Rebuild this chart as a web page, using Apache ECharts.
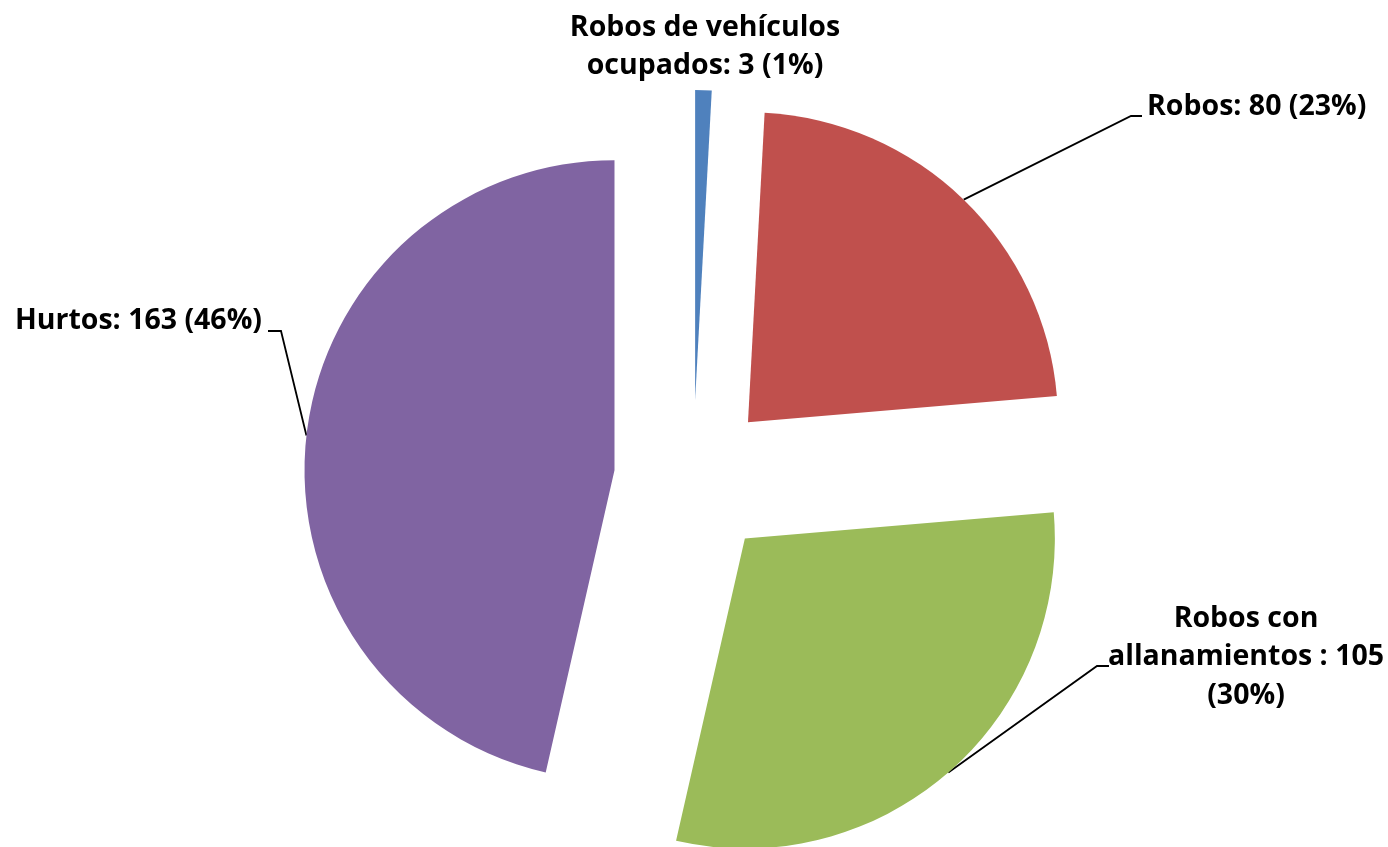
<!DOCTYPE html>
<html>
<head>
<meta charset="utf-8">
<script src="https://cdn.jsdelivr.net/npm/echarts@6/dist/echarts.min.js"></script>
<style>
html,body{margin:0;padding:0;background:#fff;}
#chart{width:1388px;height:847px;}
</style>
</head>
<body>
<div id="chart"></div>
<script>
// ---- data ----
const categories = ['Robos de vehículos\nocupados', 'Robos', 'Robos con\nallanamientos ', 'Hurtos'];
const values = [3, 80, 105, 163];
const labelBreaks = [' ', ' ', '\n', ' '];
const colors = ['#4F81BD', '#C0504D', '#9BBB59', '#8064A2'];

// ---- layout ----
const CX = 693, CY = 479, R = 310, EXPLODE = 79;
const labelPlace = [
  { x: 705, y: 47, align: 'center', line: null },
  { x: 1147, y: 107, align: 'left', line: [[1131, 116], [1142, 116]] },
  { x: 1246, y: 657, align: 'center', line: [[1097, 666], [1109, 666]] },
  { x: 262, y: 321, align: 'right', line: [[281, 331], [268, 331]] }
];

const total = values.reduce((a, b) => a + b, 0);
let cum = 0;
const mids = values.map(v => { const m = (cum + v / 2) / total * 2 * Math.PI; cum += v; return m; });

const font = { fontFamily: 'Open Sans', fontWeight: 'bold', fontSize: 28.5, color: '#000', lineHeight: 38.5 };

const series = values.map((_, i) => ({
  type: 'pie',
  silent: true,
  animation: false,
  startAngle: 90,
  clockwise: true,
  radius: R,
  center: [CX + EXPLODE * Math.sin(mids[i]), CY - EXPLODE * Math.cos(mids[i])],
  avoidLabelOverlap: false,
  data: categories.map((name, j) => ({
    name: name,
    value: values[j],
    itemStyle: { color: j === i ? colors[j] : 'rgba(0,0,0,0)', borderWidth: 0 },
    label: { show: j === i },
    labelLine: { show: j === i && labelPlace[j].line !== null }
  })),
  label: Object.assign({
    position: 'outside',
    formatter: p => p.name + ': ' + p.value + labelBreaks[p.dataIndex] + '(' + Math.round(p.percent) + '%)'
  }, font),
  labelLine: { lineStyle: { color: '#000', width: 1.8 }, length: 20, length2: 10 },
  labelLayout: function (params) {
    const lp = labelPlace[params.dataIndex];
    const out = { x: lp.x, y: lp.y, align: lp.align, verticalAlign: 'middle' };
    if (lp.line && params.labelLinePoints) {
      out.labelLinePoints = [params.labelLinePoints[0], lp.line[0], lp.line[1]];
    }
    return out;
  }
}));

const chart = echarts.init(document.getElementById('chart'), null, { renderer: 'canvas' });
chart.setOption({ backgroundColor: '#fff', series: series });
</script>
</body>
</html>
